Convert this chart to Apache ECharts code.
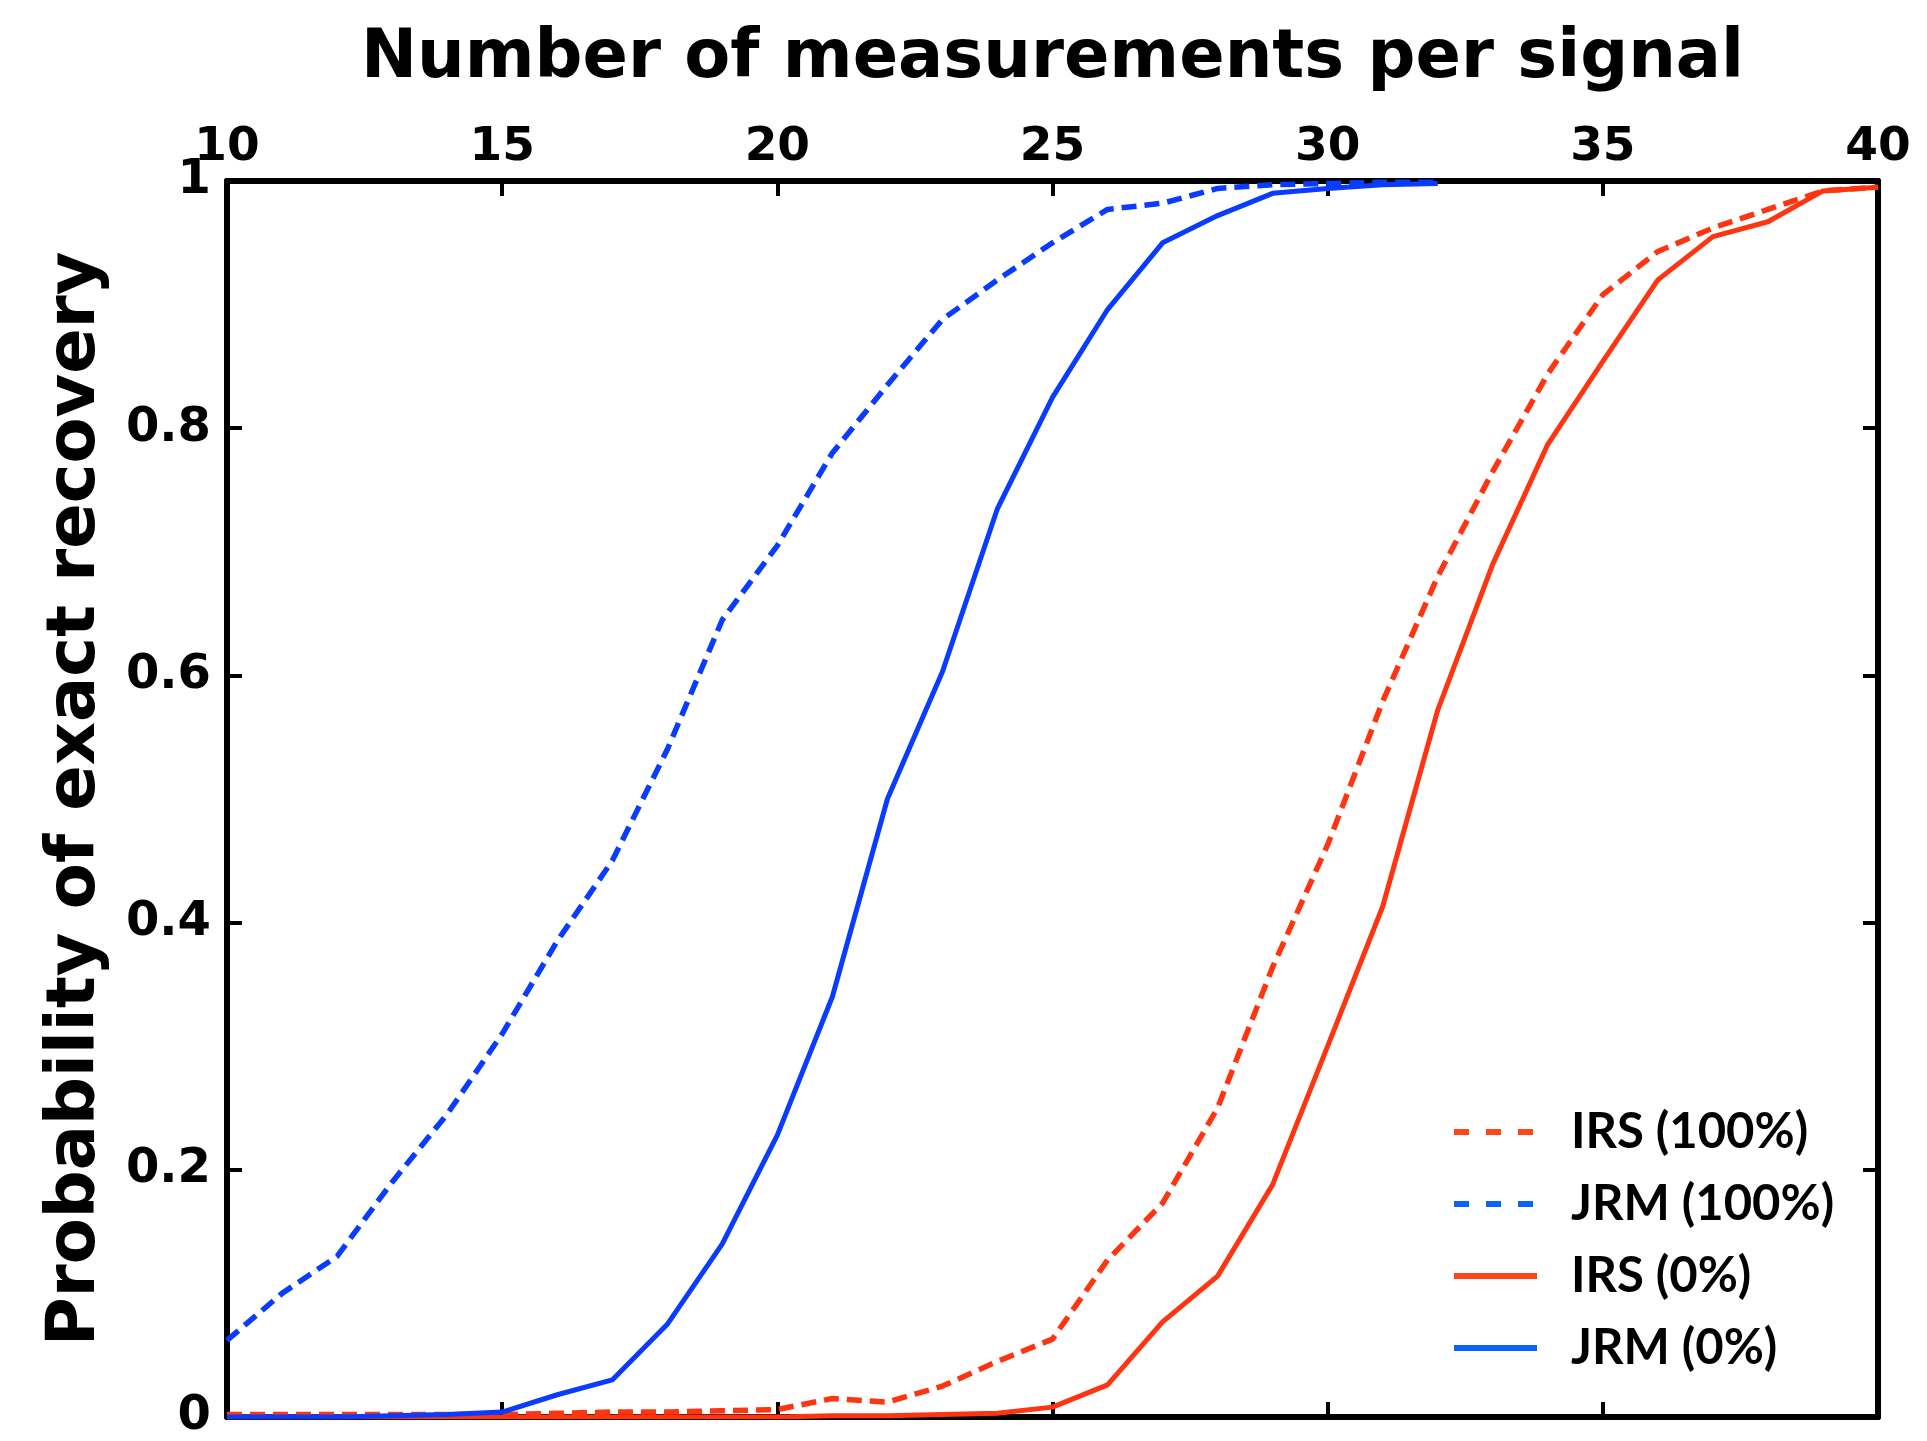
<!DOCTYPE html>
<html>
<head>
<meta charset="utf-8">
<title>Probability of exact recovery</title>
<script src="https://cdn.jsdelivr.net/npm/echarts@6/dist/echarts.min.js"></script>
<style>
  html, body { margin: 0; padding: 0; background: #ffffff; }
  #chart { width: 1927px; height: 1441px; }
</style>
</head>
<body>
<div id="chart"></div>
<script>
// Number of measurements per signal
const measurements = [10, 11, 12, 13, 14, 15, 16, 17, 18, 19, 20, 21, 22, 23, 24, 25,
                      26, 27, 28, 29, 30, 31, 32, 33, 34, 35, 36, 37, 38, 39, 40];

// Probability of exact recovery for each method / setting
const irs100 = [0.002, 0.002, 0.002, 0.002, 0.002, 0.002, 0.003, 0.004, 0.004, 0.005, 0.006, 0.015,
                0.012, 0.025, 0.045, 0.063, 0.127, 0.173, 0.25, 0.364, 0.463, 0.579, 0.68, 0.765,
                0.844, 0.908, 0.943, 0.962, 0.977, 0.992, 0.995];
const jrm100 = [0.062, 0.10, 0.13, 0.19, 0.245, 0.31, 0.385, 0.45, 0.54, 0.645, 0.705, 0.78,
                0.835, 0.888, 0.92, 0.95, 0.977, 0.982, 0.994, 0.997, 0.998, 0.999, 0.999];
const irs0 = [0, 0, 0, 0, 0, 0, 0, 0, 0, 0, 0, 0.001, 0.001, 0.002, 0.003, 0.008, 0.026, 0.077,
              0.114, 0.188, 0.3, 0.413, 0.572, 0.69, 0.787, 0.854, 0.92, 0.955, 0.967, 0.992, 0.995];
const jrm0 = [0, 0, 0, 0.001, 0.002, 0.004, 0.018, 0.03, 0.075, 0.14, 0.228, 0.34, 0.5, 0.603,
              0.735, 0.825, 0.896, 0.95, 0.972, 0.99, 0.994, 0.997, 0.998];

const seriesNames = ['IRS (100%)', 'JRM (100%)', 'IRS (0%)', 'JRM (0%)'];
const xTicks = [10, 15, 20, 25, 30, 35, 40];

const RED = '#ff3410';
const BLUE = '#0a3cff';
const LEGEND_RED = '#ff4419';
const LEGEND_BLUE = '#0a62ff';
const TICK_FONT = 'DejaVu Sans';

function pairs(values) {
  return values.map((v, i) => [measurements[i], v]);
}

const chart = echarts.init(document.getElementById('chart'), null, { renderer: 'canvas' });

const axisLine = { show: true, onZero: false, lineStyle: { color: '#000', width: 6 } };
const axisTick = { show: true, inside: true, length: 15, lineStyle: { color: '#000', width: 4 } };

// the legend shows only the line stroke, no point marker
const hiddenMarker = { opacity: 0 };

chart.setOption({
  backgroundColor: '#ffffff',
  animation: false,
  grid: { left: 227, top: 181, width: 1651, height: 1242, containLabel: false },
  xAxis: [
    {
      type: 'value', position: 'top', min: xTicks[0], max: xTicks[xTicks.length - 1], interval: 5,
      name: 'Number of measurements per signal', nameLocation: 'middle', nameGap: 88,
      nameTextStyle: { fontFamily: TICK_FONT, fontWeight: 'bold', fontSize: 67, color: '#000' },
      axisLine, axisTick, splitLine: { show: false },
      axisLabel: { fontFamily: TICK_FONT, fontWeight: 'bold', fontSize: 47, color: '#000', margin: 10 }
    },
    {
      type: 'value', position: 'bottom', min: xTicks[0], max: xTicks[xTicks.length - 1], interval: 5,
      axisLine, axisTick, splitLine: { show: false }, axisLabel: { show: false }
    }
  ],
  yAxis: [
    {
      type: 'value', position: 'left', min: 0, max: 1, interval: 0.2,
      name: 'Probability of exact recovery', nameLocation: 'middle', nameGap: 117,
      nameTextStyle: { fontFamily: TICK_FONT, fontWeight: 'bold', fontSize: 67, color: '#000' },
      axisLine, axisTick, splitLine: { show: false },
      axisLabel: { fontFamily: TICK_FONT, fontWeight: 'bold', fontSize: 48, color: '#000', margin: 16 }
    },
    {
      type: 'value', position: 'right', min: 0, max: 1, interval: 0.2,
      axisLine, axisTick, splitLine: { show: false }, axisLabel: { show: false }
    }
  ],
  legend: {
    orient: 'vertical',
    left: 1446, top: 1098,
    itemWidth: 83, itemHeight: 16, itemGap: 14,
    textStyle: { fontFamily: 'Lato', fontWeight: 'bold', fontSize: 49, color: '#000',
                 lineHeight: 58, padding: [0, 0, 0, 29] },
    data: [
      { name: seriesNames[0], itemStyle: hiddenMarker, lineStyle: { color: LEGEND_RED, width: 6, type: [15, 17] } },
      { name: seriesNames[1], itemStyle: hiddenMarker, lineStyle: { color: LEGEND_BLUE, width: 6, type: [15, 17] } },
      { name: seriesNames[2], itemStyle: hiddenMarker, lineStyle: { color: LEGEND_RED, width: 6, type: 'solid' } },
      { name: seriesNames[3], itemStyle: hiddenMarker, lineStyle: { color: LEGEND_BLUE, width: 6, type: 'solid' } }
    ]
  },
  series: [
    {
      name: seriesNames[0], type: 'line', data: pairs(irs100), symbol: 'none',
      lineStyle: { color: RED, width: 5.5, type: [15, 8] }, itemStyle: { color: RED }
    },
    {
      name: seriesNames[1], type: 'line', data: pairs(jrm100), symbol: 'none',
      lineStyle: { color: BLUE, width: 5.5, type: [15, 8] }, itemStyle: { color: BLUE }
    },
    {
      name: seriesNames[2], type: 'line', data: pairs(irs0), symbol: 'none',
      lineStyle: { color: RED, width: 5, type: 'solid' }, itemStyle: { color: RED }
    },
    {
      name: seriesNames[3], type: 'line', data: pairs(jrm0), symbol: 'none',
      lineStyle: { color: BLUE, width: 5, type: 'solid' }, itemStyle: { color: BLUE }
    }
  ]
});
</script>
</body>
</html>
